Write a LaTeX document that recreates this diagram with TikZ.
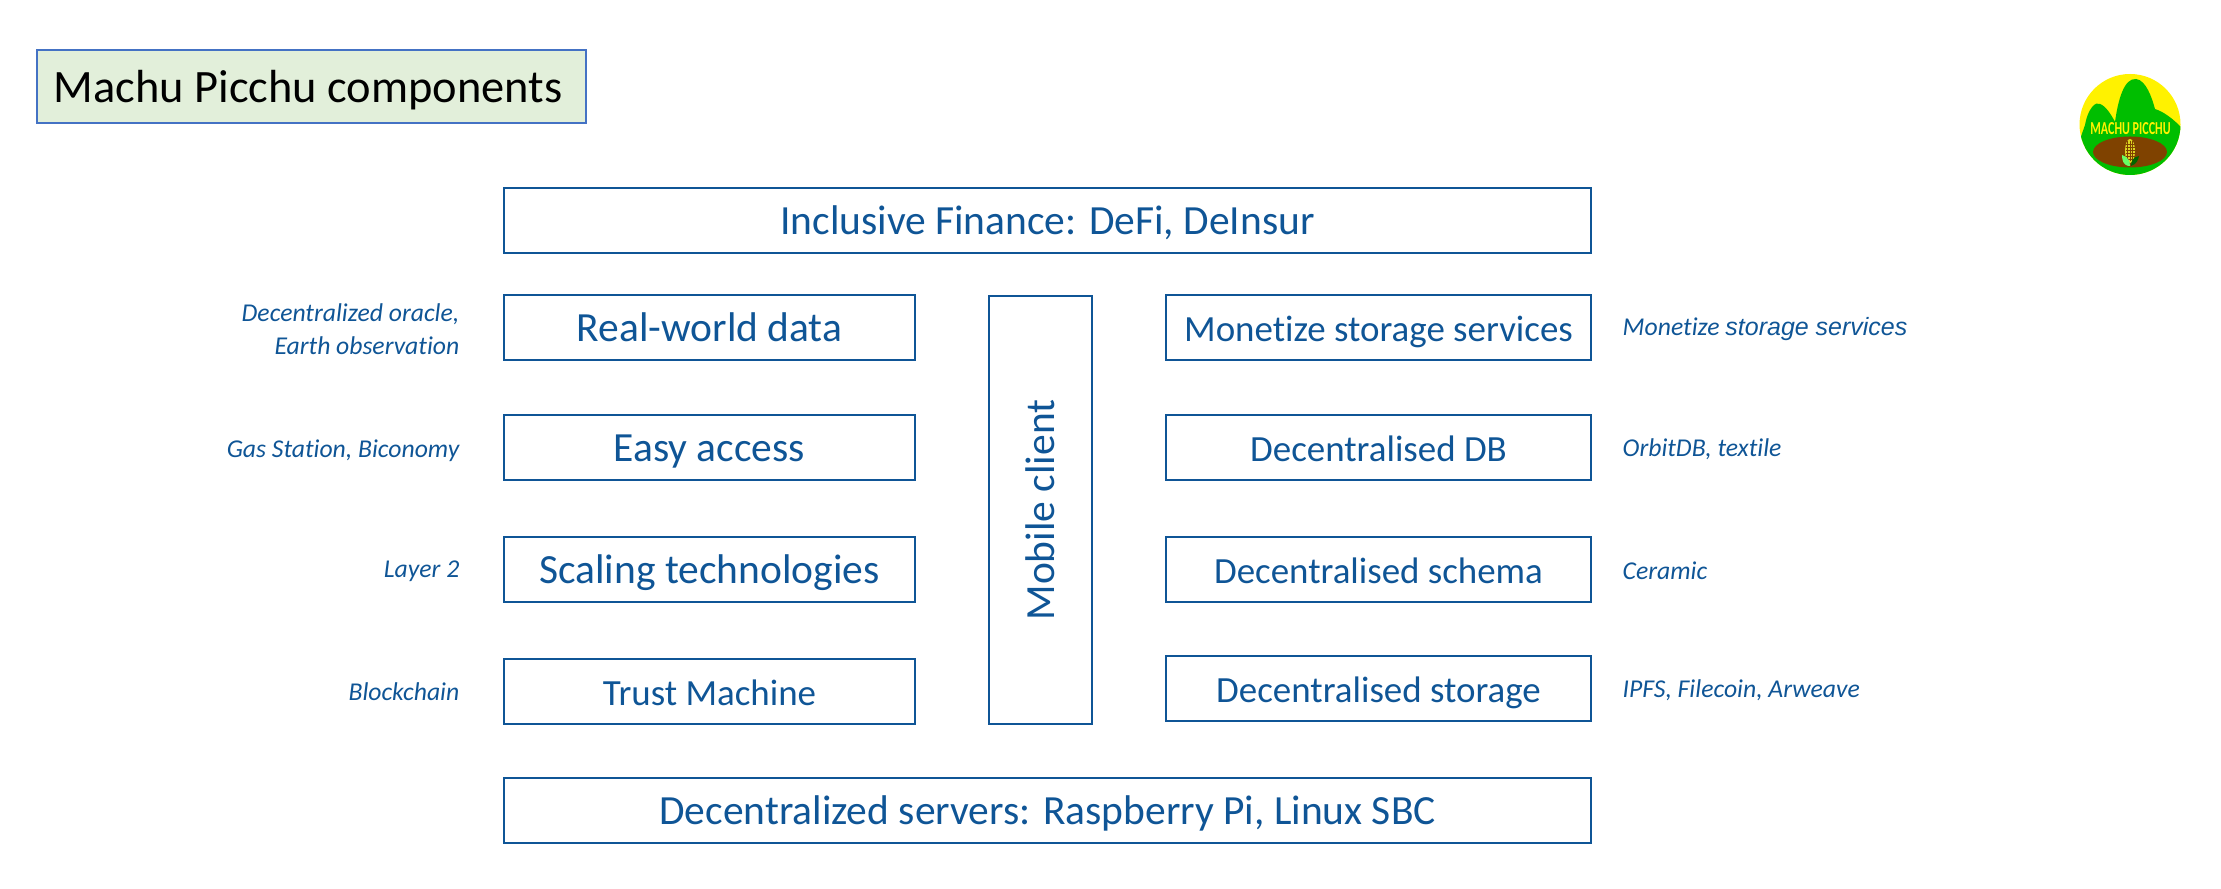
\documentclass[tikz,border=0pt]{standalone}
\usepackage{fontspec}
\setmainfont{Carlito}[Ligatures=NoCommon]
\newfontfamily\arialfont{Liberation Sans}
\definecolor{mpblue}{HTML}{0F5596}
\definecolor{mpline}{HTML}{4472C4}
\definecolor{mpfill}{HTML}{E2EFDA}
\definecolor{mpgreen}{HTML}{00BE00}
\definecolor{mpbrown}{HTML}{7F4200}
\tikzset{
  box/.style={draw=mpblue,line width=0.5pt,text=mpblue,inner sep=0pt,text height=10pt,text depth=1.8pt,font=\fontsize{11.8}{14}\selectfont},
  smallbox/.style={box,font=\fontsize{10.5}{13}\selectfont},
  side/.style={text=mpblue,inner sep=0pt,font=\fontsize{7.3}{9.3}\selectfont\itshape,align=right}
}
\begin{document}
\begin{tikzpicture}[x=0.01cm,y=-0.01cm]
  \useasboundingbox (0,0) rectangle (2221,889);
  % title
  \draw[draw=mpline,fill=mpfill,line width=0.6pt] (37,50) rectangle (586,123);
  \node[inner sep=0pt,anchor=west,font=\fontsize{13.2}{16}\selectfont] (title) at (53,90) {Machu Picchu components};
  % logo
  \begin{scope}
    \clip (2130,124.5) circle (50.5);
    \fill[yellow] (2078,70) rectangle (2182,180);
    \fill[mpgreen] (2078,180) -- (2078,145) -- (2085,125) .. controls (2088,108) and (2096,101) .. (2100,104)
      .. controls (2106,106) and (2112,116) .. (2115,122) .. controls (2118,100) and (2124,78) .. (2136,79)
      .. controls (2146,80) and (2152,98) .. (2155,109) .. controls (2164,112) and (2172,118) .. (2182,128)
      -- (2182,180) -- cycle;
    \fill[mpbrown] (2130,152) ellipse (37 and 15.5);
  \end{scope}
  \node[inner sep=0pt,text=yellow,xscale=0.66,font=\fontsize{5.2}{6}\selectfont\bfseries] (logotext) at (2130.5,129) {MACHU PICCHU};
  \fill[yellow!85!black] (2130,151) ellipse (5 and 12);
  \foreach \i in {0,1,2} \draw[mpbrown,line width=0.15pt] (2127.5+2.5*\i,141) -- (2127.5+2.5*\i,161);
  \foreach \j in {0,1,2,3,4,5} \draw[mpbrown,line width=0.15pt] (2125.5,144+3*\j) -- (2134.5,144+3*\j);
  \fill[green!60!white] (2130,166) .. controls (2123,166) and (2122,160) .. (2122,155) .. controls (2128,157) and (2130,161) .. (2130,166);
  \fill[green!40!black] (2131,166) .. controls (2137,164) and (2138,160) .. (2139,156) .. controls (2133,157) and (2131,161) .. (2131,166);
  % frames
  \node[box,minimum width=1087*0.2845pt,minimum height=65*0.2845pt] (finance) at (1047.5,220.5) {Inclusive Finance: DeFi, DeInsur};
  \node[box,minimum width=1087*0.2845pt,minimum height=65*0.2845pt] (servers) at (1047.5,810.5) {Decentralized servers: Raspberry Pi, Linux SBC};
  \node[box,minimum width=428*0.2845pt,minimum height=103*0.2845pt,rotate=90] (mobile) at (1040.5,510) {Mobile client};
  % left column
  \node[box,minimum width=411*0.2845pt,minimum height=65*0.2845pt] (data) at (709.5,327.5) {Real-world data};
  \node[box,minimum width=411*0.2845pt,minimum height=65*0.2845pt] (access) at (709.5,447.5) {Easy access};
  \node[box,minimum width=411*0.2845pt,minimum height=65*0.2845pt] (scaling) at (709.5,569.5) {Scaling technologies};
  \node[smallbox,minimum width=411*0.2845pt,minimum height=65*0.2845pt] (trust) at (709.5,691.5) {Trust Machine};
  % right column
  \node[smallbox,minimum width=425*0.2845pt,minimum height=65*0.2845pt] (monetize) at (1378.5,327.5) {Monetize storage services};
  \node[smallbox,minimum width=425*0.2845pt,minimum height=65*0.2845pt] (db) at (1378.5,447.5) {Decentralised DB};
  \node[smallbox,minimum width=425*0.2845pt,minimum height=65*0.2845pt] (schema) at (1378.5,569.5) {Decentralised schema};
  \node[smallbox,minimum width=425*0.2845pt,minimum height=65*0.2845pt] (storage) at (1378.5,688.5) {Decentralised storage};
  % side labels
  \node[side,anchor=east] (oracle) at (460,329) {Decentralized oracle,\\Earth observation};
  \node[side,anchor=east] (gas) at (460,451) {Gas Station, Biconomy};
  \node[side,anchor=east] (layer) at (460,571) {Layer 2};
  \node[side,anchor=east] (chain) at (460,692) {Blockchain};
  \node[side,anchor=west] (services) at (1622,329) {Monetize {\arialfont\fontsize{7.1}{9}\selectfont storage services}};
  \node[side,anchor=west] (orbit) at (1622,449) {OrbitDB, textile};
  \node[side,anchor=west] (ceramic) at (1622,571) {Ceramic};
  \node[side,anchor=west] (ipfs) at (1622,690) {IPFS, Filecoin, Arweave};
\end{tikzpicture}
\end{document}
